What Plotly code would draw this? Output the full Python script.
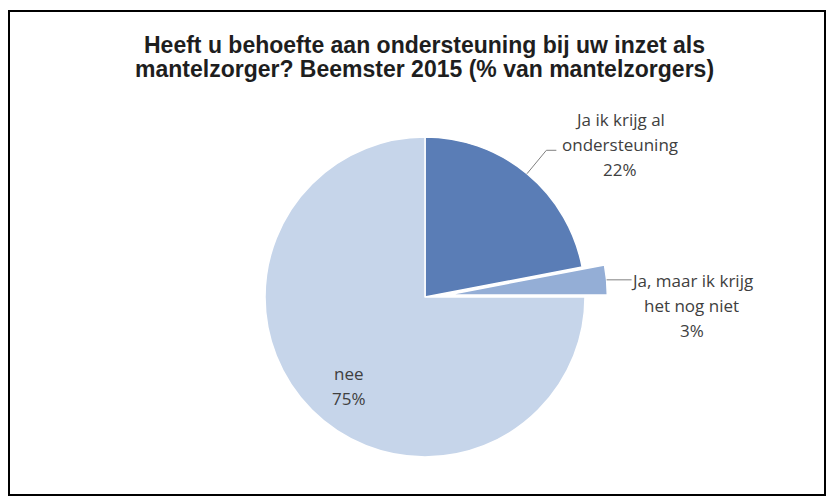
import math
import plotly.graph_objects as go

# ---- data ----
labels = ["Ja ik krijg al ondersteuning", "Ja, maar ik krijg het nog niet", "nee"]
label_lines = [["Ja ik krijg al", "ondersteuning"], ["Ja, maar ik krijg", "het nog niet"], ["nee"]]
values = [22, 3, 75]
colors = ["#5A7DB6", "#94AED6", "#C6D5EA"]
pulls = [0, 0.14, 0]
title_lines = ["Heeft u behoefte aan ondersteuning bij uw inzet als",
               "mantelzorger? Beemster 2015 (% van mantelzorgers)"]

# page body has an 8px margin; figure fills the rest of the 834x504 window
OFF = 8
W, H = 834 - 2 * OFF, 504 - 2 * OFF
cx, cy, r = 425, 297, 160  # pie centre / radius in page px
box = 2 * r * (1 + max(pulls))


def px(x):
    return (x - OFF) / W


def py(y):
    return 1 - (y - OFF) / H


fig = go.Figure()
fig.add_trace(go.Pie(
    labels=labels, values=values, sort=False, direction="clockwise", rotation=0,
    pull=pulls, marker=dict(colors=colors, line=dict(color="white", width=1.5)),
    textinfo="none", hoverinfo="label+percent", showlegend=False,
    domain=dict(x=[px(cx - box / 2), px(cx + box / 2)], y=[py(cy + box / 2), py(cy - box / 2)]),
))

total = sum(values)
font_lbl = dict(family="Open Sans, Noto Sans, sans-serif", size=17, color="#404040")
line_gap = 25
annotations = []
shapes = []
cum = 0
for i, v in enumerate(values):
    frac = v / total
    mid = (cum + frac / 2) * 2 * math.pi
    cum += frac
    pct = f"{round(frac * 100)}%"
    lines = label_lines[i] + [pct]
    sx, sy = math.sin(mid), -math.cos(mid)
    if i == 0:
        x0, y0 = cx + r * sx, cy + r * sy
        x1, y1 = cx + 1.19 * r * sx, cy + 1.19 * r * sy
        x2 = x1 + 10
        shapes.append(dict(type="path", xref="paper", yref="paper",
                           path=f"M {px(x0)},{py(y0)} L {px(x1)},{py(y1)} L {px(x2)},{py(y1)}",
                           line=dict(color="#808080", width=1)))
        tx = x2 + 64
        ty0 = y1 - line_gap - 6
    elif i == 1:
        rr = r * (1 + pulls[i])
        x0, y0 = cx + rr * sx, cy + rr * sy
        x2 = x0 + 25
        shapes.append(dict(type="line", xref="paper", yref="paper",
                           x0=px(x0), y0=py(y0), x1=px(x2), y1=py(y0),
                           line=dict(color="#808080", width=1)))
        tx = x2 + 60
        ty0 = y0 + 1
    else:
        x0, y0 = cx + 0.62 * r * sx, cy + 0.62 * r * sy
        tx = x0 - 6
        ty0 = y0 + 6
    for k, t in enumerate(lines):
        annotations.append(dict(text=t, x=px(tx), y=py(ty0 + k * line_gap), xref="paper", yref="paper",
                                showarrow=False, xanchor="center", yanchor="middle", font=font_lbl))

# title, two lines
for k, t in enumerate(title_lines):
    annotations.append(dict(text=f"<b>{t}</b>", x=px(424), y=py(45 + k * 24), xref="paper", yref="paper",
                            showarrow=False, xanchor="center", yanchor="middle",
                            font=dict(family="Liberation Sans, Arial, sans-serif", size=23, color="#1e1e1e")))

# outer frame
shapes.append(dict(type="rect", xref="paper", yref="paper",
                   x0=px(9), y0=py(495), x1=px(825), y1=py(11),
                   line=dict(color="black", width=2), fillcolor="rgba(0,0,0,0)"))

fig.update_layout(width=W, height=H, margin=dict(l=0, r=0, t=0, b=0),
                  paper_bgcolor="white", plot_bgcolor="white",
                  annotations=annotations, shapes=shapes)
fig.write_html("out.html")
